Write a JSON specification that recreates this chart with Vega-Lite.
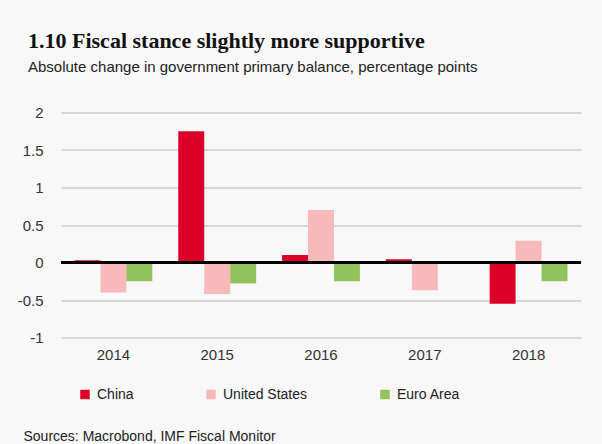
{
  "$schema": "https://vega.github.io/schema/vega-lite/v6.json",
  "autosize": "none",
  "width": 520,
  "height": 225,
  "padding": {"left": 61, "top": 112.5, "right": 21, "bottom": 106.5},
  "background": "#f8f8f8",
  "config": {
    "view": {"stroke": null},
    "font": "Liberation Sans",
    "axis": {"labelFont": "Liberation Sans", "titleFont": "Liberation Sans"},
    "legend": {"labelFont": "Liberation Sans"}
  },
  "title": {
    "text": "1.10 Fiscal stance slightly more supportive",
    "subtitle": "Absolute change in government primary balance, percentage points",
    "anchor": "start",
    "frame": "group",
    "dx": -33,
    "offset": 30,
    "font": "Liberation Serif",
    "fontSize": 22,
    "fontWeight": "bold",
    "color": "#111111",
    "subtitleFont": "Liberation Sans",
    "subtitleFontSize": 15,
    "subtitleColor": "#222222",
    "subtitlePadding": 7
  },
  "data": {
    "values": [
      {"year": "2014", "country": "China", "value": 0.03},
      {"year": "2014", "country": "United States", "value": -0.40},
      {"year": "2014", "country": "Euro Area", "value": -0.25},
      {"year": "2015", "country": "China", "value": 1.75},
      {"year": "2015", "country": "United States", "value": -0.42},
      {"year": "2015", "country": "Euro Area", "value": -0.28},
      {"year": "2016", "country": "China", "value": 0.10},
      {"year": "2016", "country": "United States", "value": 0.70},
      {"year": "2016", "country": "Euro Area", "value": -0.25},
      {"year": "2017", "country": "China", "value": 0.045},
      {"year": "2017", "country": "United States", "value": -0.37},
      {"year": "2017", "country": "Euro Area", "value": 0.02},
      {"year": "2018", "country": "China", "value": -0.55},
      {"year": "2018", "country": "United States", "value": 0.29},
      {"year": "2018", "country": "Euro Area", "value": -0.25}
    ]
  },
  "layer": [
    {
      "mark": {"type": "bar"},
      "encoding": {
        "x": {
          "field": "year", "type": "nominal",
          "scale": {"paddingInner": 0.25, "paddingOuter": 0.13},
          "axis": {
            "title": "Sources: Macrobond, IMF Fiscal Monitor",
            "titleAnchor": "start", "titleAlign": "left",
            "titleX": -38, "titleY": 103, "titleBaseline": "alphabetic",
            "titleFontSize": 14, "titleFontWeight": "normal", "titleColor": "#222222",
            "labelAngle": 0, "labelFontSize": 15, "labelColor": "#333333",
            "labelPadding": 10, "ticks": false, "domain": false
          }
        },
        "xOffset": {
          "field": "country", "type": "nominal",
          "sort": ["China", "United States", "Euro Area"],
          "scale": {"paddingInner": 0, "paddingOuter": 0}
        },
        "y": {
          "field": "value", "type": "quantitative",
          "scale": {"domain": [-1, 2], "nice": false},
          "axis": {
            "title": null, "tickCount": 6, "format": "~g",
            "labelExpr": "replace(datum.label, '\u2212', '-')",
            "labelOverlap": false,
            "labelFontSize": 15, "labelColor": "#333333",
            "labelPadding": 18, "ticks": false, "domain": false,
            "gridColor": "#cccccc", "gridWidth": 1.5
          }
        },
        "color": {
          "field": "country", "type": "nominal",
          "sort": ["China", "United States", "Euro Area"],
          "scale": {"domain": ["China", "United States", "Euro Area"], "range": ["#dc0028", "#f7b9b9", "#92c35f"]},
          "legend": {
            "title": null, "orient": "none", "direction": "horizontal",
            "legendX": 17, "legendY": 275,
            "symbolType": "square", "symbolSize": 90, "symbolStrokeWidth": 0,
            "labelFontSize": 14, "labelColor": "#222222", "labelOffset": 5,
            "columnPadding": 70
          }
        }
      }
    },
    {
      "mark": {"type": "rule", "color": "#000000", "strokeWidth": 2},
      "encoding": {"y": {"datum": 0, "type": "quantitative"}}
    }
  ]
}
